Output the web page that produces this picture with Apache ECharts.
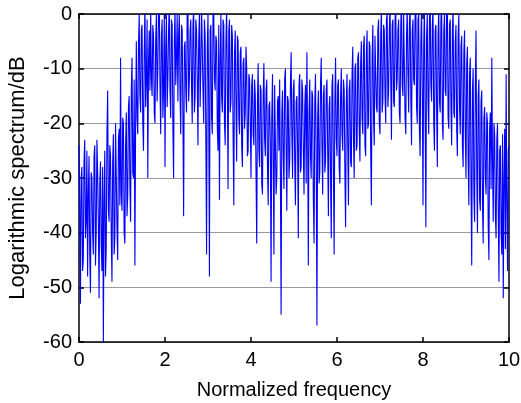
<!DOCTYPE html>
<html>
<head>
<meta charset="utf-8">
<script src="https://cdn.jsdelivr.net/npm/echarts@6/dist/echarts.min.js"></script>
<style>html,body{margin:0;padding:0;background:#fff}#c{width:521px;height:403px}</style>
</head>
<body>
<div id="c"></div>
<script>
// Normalized frequency: 0..10, 601 samples (step 1/60)
var freqStart = 0, freqEnd = 10, sampleCount = 601;
// Logarithmic spectrum values (dB)
var spectrumDb = [
  -24,-35,-53,-30,-28,-47,-45,-27,-23,-41,-38,-25,-48,-33,-26,-44,-51,-29,-30,-40,
  -44,-26,-24,-46,-40,-23,-29,-38,-52,-31,-27,-42,-47,-28,-60,-34,-25,-48,-43,-22,
  -14,-36,-38,-24,-26,-40,-49,-27,-22,-44,-41,-20,-30,-39,-45,-23,-21,-35,-8,-33,
  -36,-19,-20,-40,-42,-24,-18,-37,-33,-17,-15,-31,-38,-14,-8,-29,-30,-12,-46,-20,
  -5,-19,-22,-6,0,-15,-18,-3,-2,-20,-25,-7,2,-17,-12,-1,-30,-9,-3,-14,
  1,-12,-15,-2,-4,-18,-20,-5,0,-16,-10,1,3,-13,-22,-4,-1,-19,-14,0,
  -28,-6,0,-17,-12,-3,2,-14,-19,-1,-2,-21,-30,-5,1,-13,-8,0,-16,-4,
  0,-15,-22,-2,-3,-19,-37,-6,-5,-14,-18,1,2,-16,-12,-3,-1,-13,-20,-2,
  1,-18,-15,-1,-3,-12,-24,-5,0,-17,-10,2,2,-14,-20,-1,-4,-23,-44,-6,
  0,-17,-48,-3,-2,-19,-22,0,1,-12,-14,-4,-5,-21,-25,-2,-34,-9,0,-15,
  -18,-1,-2,-20,-24,-5,1,-13,-32,-3,-1,-18,-16,-2,-4,-22,-35,-7,-3,-16,
  -27,-4,-5,-19,-22,-7,-6,-24,-28,-9,-8,-21,-18,-6,-10,-26,-25,-11,-12,-20,
  -30,-13,-11,-22,-24,-12,-15,-29,-42,-16,-9,-25,-28,-13,-14,-31,-33,-15,-9,-23,
  -26,-14,-12,-28,-35,-17,-16,-24,-49,-19,-11,-27,-44,-13,-13,-33,-30,-16,-15,-25,
  -12,-29,-55,-18,-14,-26,-32,-12,-10,-24,-36,-15,-16,-30,-27,-13,-7,-22,-30,-14,
  -12,-27,-35,-16,-15,-24,-41,-13,-11,-29,-28,-12,-14,-25,-33,-17,-13,-31,-7,-22,
  -46,-18,-12,-26,-30,-14,-15,-34,-42,-16,-11,-27,-57,-19,-14,-31,-29,-13,-8,-24,
  -33,-15,-13,-29,-27,-14,-12,-25,-37,-17,-15,-30,-41,-13,-11,-28,-44,-16,-8,-23,
  -26,-13,-12,-28,-31,-15,-10,-22,-25,-12,-14,-29,-39,-16,-11,-24,-35,-14,-12,-27,
  -28,-11,-6,-23,-30,-10,-9,-25,-24,-8,-7,-21,-27,-9,-5,-19,-22,-6,-4,-24,
  -26,-7,-3,-21,-20,-5,-6,-25,-35,-8,-2,-19,-24,-4,-4,-17,-18,-3,-1,-20,
  -22,-4,1,-18,-16,-2,-3,-15,-20,-1,0,-17,-14,-3,2,-12,-23,-2,-1,-16,
  -17,-1,2,-14,-12,-3,-1,-18,-20,-2,3,-13,-15,0,0,-19,-22,-4,1,-11,
  -18,-2,2,-15,-24,-3,-1,-12,-13,1,3,-17,-20,-1,0,-21,-26,-5,1,-14,
  -35,-6,2,-19,-39,-4,0,-16,-22,-1,3,-13,-16,-2,1,-20,-25,-3,-2,-17,
  -28,-4,1,-16,-18,-1,2,-20,-23,-3,0,-14,-15,1,2,-19,-21,-2,-1,-17,
  -24,-3,1,-18,-19,-5,-2,-21,-26,-4,0,-17,-22,-6,-4,-24,-28,-7,-3,-22,
  -30,-9,-6,-27,-35,-11,-8,-31,-46,-14,-10,-33,-38,-13,-3,-29,-40,-15,-12,-34,
  -36,-16,-14,-35,-42,-19,-17,-30,-33,-18,-20,-39,-45,-21,-18,-32,-8,-27,-38,-20,
  -22,-37,-41,-23,-20,-36,-49,-25,-24,-40,-44,-22,-52,-30,-21,-43,-11,-35,-47,-25,
  -24
];
var xTicks = [0, 2, 4, 6, 8, 10];
var yTicks = [-60, -50, -40, -30, -20, -10, 0];

var pts = spectrumDb.map(function (v, i) {
  return [freqStart + i * (freqEnd - freqStart) / (sampleCount - 1), v];
});

var font = 'Liberation Sans, Arial, sans-serif';
var chart = echarts.init(document.getElementById('c'), null, {renderer: 'canvas'});
chart.setOption({
  animation: false,
  backgroundColor: '#fff',
  grid: {left: 79, right: 12, top: 14, bottom: 61, containLabel: false, outerBoundsMode: 'none'},
  xAxis: [{
    type: 'value', min: xTicks[0], max: xTicks[xTicks.length - 1], interval: 2,
    name: 'Normalized frequency', nameLocation: 'middle', nameGap: 38,
    nameTextStyle: {color: '#000', fontSize: 20, fontFamily: font},
    axisLine: {show: true, onZero: false, lineStyle: {color: '#000', width: 1.5}},
    axisTick: {show: true, inside: true, length: 5, lineStyle: {color: '#000', width: 1.5}},
    axisLabel: {color: '#000', fontSize: 20, fontFamily: font, margin: 8},
    splitLine: {show: false}
  }, {
    type: 'value', position: 'top', min: 0, max: 10, interval: 2,
    axisLine: {show: true, onZero: false, lineStyle: {color: '#000', width: 1.5}},
    axisTick: {show: true, inside: true, length: 5, lineStyle: {color: '#000', width: 1.5}},
    axisLabel: {show: false}, splitLine: {show: false}
  }],
  yAxis: [{
    type: 'value', min: yTicks[0], max: yTicks[yTicks.length - 1], interval: 10,
    name: 'Logarithmic spectrum/dB', nameLocation: 'middle', nameGap: 50,
    nameTextStyle: {color: '#000', fontSize: 22, fontFamily: font},
    axisLine: {show: true, onZero: false, lineStyle: {color: '#000', width: 1.5}},
    axisTick: {show: true, inside: true, length: 5, lineStyle: {color: '#000', width: 1.5}},
    axisLabel: {color: '#000', fontSize: 20, fontFamily: font, margin: 7},
    splitLine: {show: true, lineStyle: {color: '#999', width: 1}}
  }, {
    type: 'value', position: 'right', min: -60, max: 0, interval: 10,
    axisLine: {show: true, onZero: false, lineStyle: {color: '#000', width: 1.5}},
    axisTick: {show: true, inside: true, length: 5, lineStyle: {color: '#000', width: 1.5}},
    axisLabel: {show: false}, splitLine: {show: false}
  }],
  series: [{
    type: 'line', data: pts, showSymbol: false, symbol: 'none', clip: true,
    lineStyle: {color: '#0000ff', width: 1.1}
  }]
});
</script>
</body>
</html>
